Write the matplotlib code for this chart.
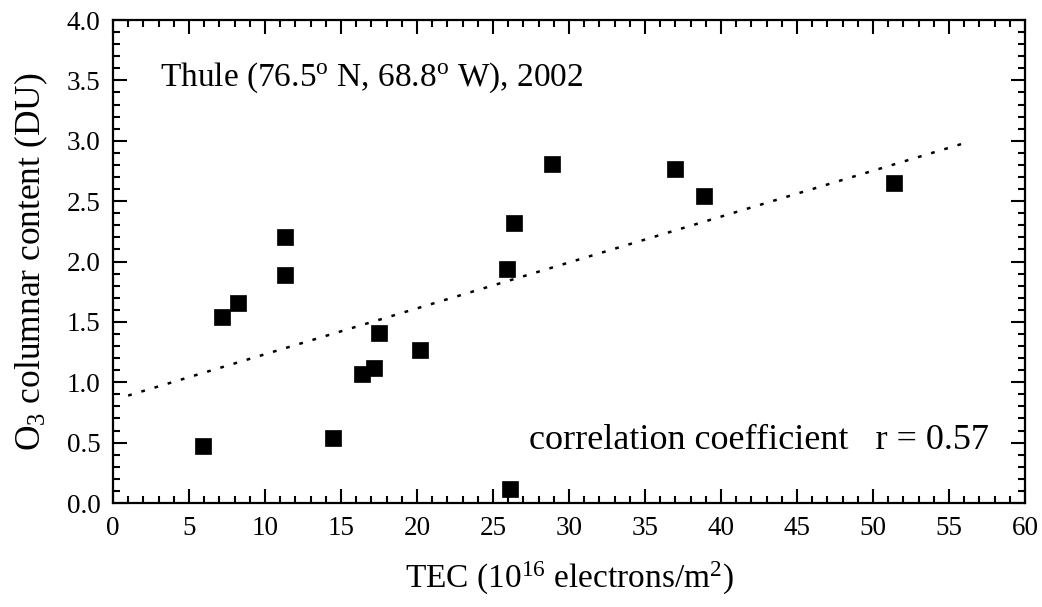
import matplotlib
matplotlib.use('Agg')
import matplotlib.pyplot as plt
from matplotlib.ticker import MultipleLocator
import numpy as np

# TEC (1e16 el/m2) vs O3 columnar content (DU), Thule 2002
tec=[5.9,7.15,8.25,11.35,11.35,14.5,16.4,17.2,17.5,20.2,25.9,26.1,26.4,28.9,37.0,38.9,51.4]
o3=[0.47,1.54,1.66,2.20,1.89,0.54,1.07,1.12,1.41,1.27,1.94,0.12,2.32,2.81,2.77,2.54,2.65]
fit_x=[1.0,56.0]
fit_y=[0.89,2.98]
x_ticks=np.arange(0,61,5)
y_ticks=np.arange(0,4.01,0.5)

plt.rcParams['font.family']=['Liberation Serif','DejaVu Serif']
plt.rcParams['mathtext.fontset']='custom'
plt.rcParams['mathtext.rm']='Liberation Serif'
plt.rcParams['mathtext.it']='Liberation Serif:italic'

fig=plt.figure(figsize=(10.42,6.07),dpi=100)
ax=fig.add_axes([0.1084,0.1713,0.8753,0.7957])
ax.plot(fit_x,fit_y,color='black',lw=1.8,linestyle=(0,(1.5,4)))
ax.plot(tec,o3,'s',color='black',ms=11.5,mec='black',mew=0.5,clip_on=False,zorder=3)

ax.set_xlim(0,60)
ax.set_ylim(0,4.0)
ax.set_xticks(x_ticks)
ax.set_yticks(y_ticks)
ax.set_xticklabels([f'{v:d}' for v in x_ticks])
ax.set_yticklabels([f'{v:.1f}' for v in y_ticks])
ax.xaxis.set_minor_locator(MultipleLocator(1))
ax.yaxis.set_minor_locator(MultipleLocator(0.1))
ax.tick_params(which='both',direction='in',top=True,right=True,width=1.5,labelsize=19.5)
ax.tick_params(which='major',length=10,pad=9)
ax.tick_params(which='minor',length=5)
for s in ax.spines.values():
    s.set_linewidth(1.6)

ax.set_xlabel(r'TEC (10$^{16}$ electrons/m$^{2}$)',fontsize=24,labelpad=14)
ax.set_ylabel(r'O$_3$ columnar content (DU)',fontsize=25.5,labelpad=12)

ax.text(3.1,3.52,r'Thule (76.5$^{\mathrm{o}}$ N, 68.8$^{\mathrm{o}}$ W), 2002',fontsize=24,va='center')
ax.text(27.4,0.52,'correlation coefficient   r = 0.57',fontsize=26,va='center')

plt.savefig('out.png',dpi=100,facecolor='white')
plt.close()
